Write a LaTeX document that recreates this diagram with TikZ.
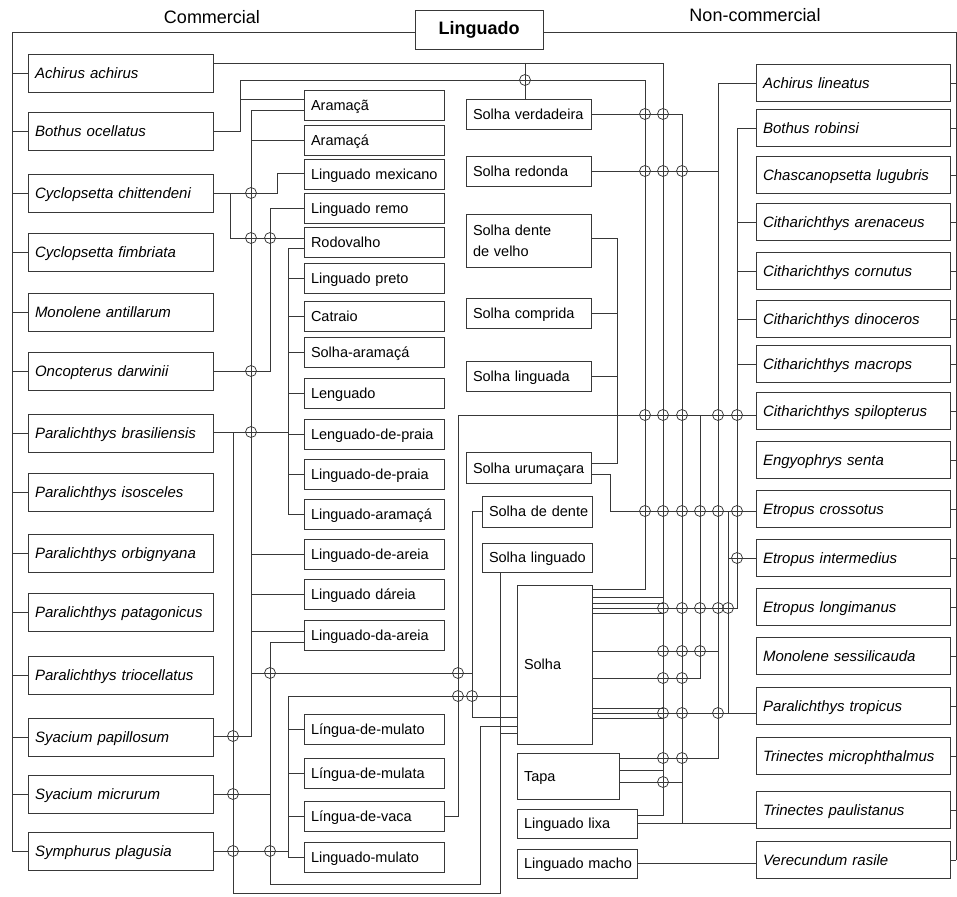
\documentclass[tikz,border=0pt]{standalone}
\usepackage{fontspec}
\setmainfont{Liberation Sans}
\begin{document}
\begin{tikzpicture}[x=1pt,y=-1pt,
  ln/.style={line width=0.75pt, draw=black!78},
  bx/.style={draw=black!78, line width=0.9pt, fill=white, inner xsep=7pt, inner ysep=0pt, align=left, font=\fontsize{14.5}{20}\selectfont},
  one/.style={text height=10.5pt, text depth=0pt},
  lbox/.style={bx, one, text width=171pt, minimum height=38pt, font=\fontsize{15}{18}\selectfont\itshape},
  rbox/.style={bx, one, text width=180pt, minimum height=37pt, font=\fontsize{15}{18}\selectfont\itshape},
  cbox/.style={bx, one, text width=126pt, minimum height=30pt},
  sbox/.style={bx, one, text width=111pt, minimum height=30pt},
  bump/.style={line width=0.75pt, draw=black!78}
]
\path[use as bounding box, fill=white] (0,0) rectangle (957,896);

% ---------- headers ----------
\node[font=\fontsize{18}{21}\selectfont] (hc) at (212,17) {Commercial};
\node[font=\fontsize{18}{21}\selectfont] (hn) at (755,15) {Non-commercial};
\node[draw=black!78, line width=0.9pt, fill=white, minimum width=128pt, minimum height=39pt, inner sep=0pt, font=\fontsize{18}{21}\selectfont\bfseries] (LG) at (479,29.5) {Linguado};

% ---------- left species ----------
\node[lbox] (LA1) at (120.5,73) {\mbox{Achirus achirus}};
\node[lbox] (LA2) at (120.5,131) {\mbox{Bothus ocellatus}};
\node[lbox] (LA3) at (120.5,193) {\mbox{Cyclopsetta chittendeni}};
\node[lbox] (LA4) at (120.5,252) {\mbox{Cyclopsetta fimbriata}};
\node[lbox] (LA5) at (120.5,312) {\mbox{Monolene antillarum}};
\node[lbox] (LA6) at (120.5,371) {\mbox{Oncopterus darwinii}};
\node[lbox] (LA7) at (120.5,433) {\mbox{Paralichthys brasiliensis}};
\node[lbox] (LA8) at (120.5,492) {\mbox{Paralichthys isosceles}};
\node[lbox] (LA9) at (120.5,553) {\mbox{Paralichthys orbignyana}};
\node[lbox] (LA10) at (120.5,612) {\mbox{Paralichthys patagonicus}};
\node[lbox] (LA11) at (120.5,675) {\mbox{Paralichthys triocellatus}};
\node[lbox] (LA12) at (120.5,737) {\mbox{Syacium papillosum}};
\node[lbox] (LA13) at (120.5,794) {\mbox{Syacium micrurum}};
\node[lbox] (LA14) at (120.5,851) {\mbox{Symphurus plagusia}};

% ---------- common names (left) ----------
\node[cbox] (C1) at (374,105) {\mbox{Aramaçã}};
\node[cbox] (C2) at (374,140) {\mbox{Aramaçá}};
\node[cbox] (C3) at (374,174) {\mbox{Linguado mexicano}};
\node[cbox] (C4) at (374,208) {\mbox{Linguado remo}};
\node[cbox] (C5) at (374,242) {\mbox{Rodovalho}};
\node[cbox] (C6) at (374,278) {\mbox{Linguado preto}};
\node[cbox] (C7) at (374,316) {\mbox{Catraio}};
\node[cbox] (C8) at (374,352) {\mbox{Solha-aramaçá}};
\node[cbox] (C9) at (374,393) {\mbox{Lenguado}};
\node[cbox] (C10) at (374,434) {\mbox{Lenguado-de-praia}};
\node[cbox] (C11) at (374,474) {\mbox{Linguado-de-praia}};
\node[cbox] (C12) at (374,514) {\mbox{Linguado-aramaçá}};
\node[cbox] (C13) at (374,554) {\mbox{Linguado-de-areia}};
\node[cbox] (C14) at (374,594) {\mbox{Linguado dáreia}};
\node[cbox] (C15) at (374,635) {\mbox{Linguado-da-areia}};
\node[cbox] (C16) at (374,729) {\mbox{Língua-de-mulato}};
\node[cbox] (C17) at (374,773) {\mbox{Língua-de-mulata}};
\node[cbox] (C18) at (374,816) {\mbox{Língua-de-vaca}};
\node[cbox] (C19) at (374,857) {\mbox{Linguado-mulato}};

% ---------- common names (middle) ----------
\node[sbox] (S1) at (528.5,114) {\mbox{Solha verdadeira}};
\node[sbox] (S2) at (528.5,171) {\mbox{Solha redonda}};
\node[bx, text width=111pt, minimum height=53pt, font=\fontsize{14.5}{21}\selectfont] (S3) at (528.5,241) {\mbox{Solha dente}\\\mbox{de velho}};
\node[sbox] (S4) at (528.5,313) {\mbox{Solha comprida}};
\node[sbox] (S5) at (528.5,376) {\mbox{Solha linguada}};
\node[sbox, minimum height=31pt] (S6) at (528.5,468) {\mbox{Solha urumaçara}};
\node[bx, one, text width=96pt, minimum height=31pt] (S7) at (537,511.5) {\mbox{Solha de dente}};
\node[bx, one, text width=96pt, minimum height=29pt] (S8) at (537,557.5) {\mbox{Solha linguado}};
\node[bx, one, text width=61pt, minimum height=159pt] (S9) at (554.5,664.5) {Solha};
\node[bx, one, text width=88pt, minimum height=46pt] (S10) at (568,776) {Tapa};
\node[bx, one, text width=106pt, minimum height=29pt] (S11) at (577,823.5) {\mbox{Linguado lixa}};
\node[bx, one, text width=106pt, minimum height=29pt] (S12) at (577,863.5) {\mbox{Linguado macho}};

% ---------- right species ----------
\node[rbox] (R1) at (853,83) {\mbox{Achirus lineatus}};
\node[rbox] (R2) at (853,128) {\mbox{Bothus robinsi}};
\node[rbox] (R3) at (853,175) {\mbox{Chascanopsetta lugubris}};
\node[rbox] (R4) at (853,222) {\mbox{Citharichthys arenaceus}};
\node[rbox] (R5) at (853,271) {\mbox{Citharichthys cornutus}};
\node[rbox] (R6) at (853,319) {\mbox{Citharichthys dinoceros}};
\node[rbox] (R7) at (853,364) {\mbox{Citharichthys macrops}};
\node[rbox] (R8) at (853,411) {\mbox{Citharichthys spilopterus}};
\node[rbox] (R9) at (853,460) {\mbox{Engyophrys senta}};
\node[rbox] (R10) at (853,509) {\mbox{Etropus crossotus}};
\node[rbox] (R11) at (853,558) {\mbox{Etropus intermedius}};
\node[rbox] (R12) at (853,607) {\mbox{Etropus longimanus}};
\node[rbox] (R13) at (853,656) {\mbox{Monolene sessilicauda}};
\node[rbox] (R14) at (853,706) {\mbox{Paralichthys tropicus}};
\node[rbox] (R15) at (853,756) {\mbox{Trinectes microphthalmus}};
\node[rbox] (R16) at (853,810) {\mbox{Trinectes paulistanus}};
\node[rbox] (R17) at (853,860) {\mbox{Verecundum rasile}};

% ---------- top tree ----------
\draw[ln] (LG.west |- 0,32) -- (12,32) -- (12,851);
\foreach \n in {LA1,LA2,LA3,LA4,LA5,LA6,LA7,LA8,LA9,LA10,LA11,LA12,LA13,LA14}
  \draw[ln] (\n.west) -- ++(-16,0);
\draw[ln] (LG.east |- 0,32) -- (956,32) -- (956,860);
\foreach \n in {R1,R2,R3,R4,R5,R6,R7,R8,R9,R10,R11,R12,R13,R14,R15,R16,R17}
  \draw[ln] (\n.east) -- ++(6,0);

% ---------- left wiring ----------
% Achirus achirus
\draw[ln] (LA1.east |- 0,63) -- (663,63) -- (663,815) -- (S11.east |- 0,815);
\draw[ln] (525,63) -- (S1.north -| 525,0);
% Bothus ocellatus
\draw[ln] (LA2.east) -- (240,131) -- (240,80) -- (645,80) -- (645,589) -- (S9.east |- 0,589);
\draw[ln] (240,99) -- (C1.west |- 0,99);
% Cyclopsetta chittendeni
\draw[ln] (LA3.east) -- (277,193) -- (277,173) -- (C3.west |- 0,173);
\draw[ln] (230,193) -- (230,238) -- (C5.west |- 0,238);
% Syacium papillosum
\draw[ln] (C1.west |- 0,110) -- (251,110) -- (251,736) -- (LA12.east |- 0,736);
\draw[ln] (251,140) -- (C2.west);
\draw[ln] (251,554) -- (C13.west);
\draw[ln] (251,594) -- (C14.west);
\draw[ln] (251,631) -- (C15.west |- 0,631);
\draw[ln] (251,673) -- (472,673);
% Oncopterus darwinii
\draw[ln] (LA6.east) -- (270,371) -- (270,208) -- (C4.west);
% Paralichthys brasiliensis
\draw[ln] (LA7.east |- 0,432) -- (288,432);
\draw[ln] (C5.west |- 0,248) -- (288,248) -- (288,514) -- (C12.west |- 0,514);
\foreach \n in {C6,C7,C8,C9,C10,C11} \draw[ln] (\n.west) -- (\n.west -| 288,0);
\draw[ln] (233,432) -- (233,893) -- (500,893) -- (500,733) -- (S9.west |- 0,733);
\draw[ln] (S8.south -| 500,0) -- (500,733);
% Syacium micrurum
\draw[ln] (LA13.east) -- (270,794);
\draw[ln] (C15.west |- 0,642) -- (270,642) -- (270,884) -- (480,884) -- (480,726) -- (S9.west |- 0,726);
% Symphurus plagusia
\draw[ln] (LA14.east) -- (288,851);
\draw[ln] (S9.west |- 0,696) -- (288,696) -- (288,857) -- (C19.west);
\foreach \n in {C16,C17,C18} \draw[ln] (\n.west) -- (\n.west -| 288,0);
% Lingua-de-vaca
\draw[ln] (C18.east) -- (458,816) -- (458,415) -- (R8.west |- 0,415);
% Solha de dente
\draw[ln] (S7.west) -- (472,511.5) -- (472,717) -- (S9.west |- 0,717);

% ---------- middle / right wiring ----------
\draw[ln] (S3.east |- 0,238) -- (617,238) -- (617,463) -- (S6.east |- 0,463);
\draw[ln] (S4.east) -- (617,313);
\draw[ln] (S5.east) -- (617,376);
\draw[ln] (S6.east |- 0,474) -- (610,474) -- (610,511) -- (R10.west |- 0,511);
\draw[ln] (S1.east) -- (682,114) -- (682,823);
\draw[ln] (S11.east |- 0,823) -- (R16.west |- 0,823);
\draw[ln] (S2.east) -- (718,171);
\draw[ln] (R1.west) -- (718,83) -- (718,758) -- (S10.east |- 0,758);
\draw[ln] (R2.west) -- (737,128) -- (737,608) -- (S9.east |- 0,608);
\foreach \n in {R4,R5,R6,R7} \draw[ln] (\n.west) -- (\n.west -| 737,0);
\draw[ln] (700,415) -- (700,678) -- (S9.east |- 0,678);
\draw[ln] (728,511) -- (728,713);
\draw[ln] (728,558) -- (R11.west |- 0,558);
\draw[ln] (S9.east |- 0,713) -- (R14.west |- 0,713);
\draw[ln] (S9.east |- 0,597) -- (663,597);
\draw[ln] (S9.east |- 0,603) -- (663,603);
\draw[ln] (S9.east |- 0,613) -- (663,613);
\draw[ln] (S9.east |- 0,651) -- (718,651);
\draw[ln] (S9.east |- 0,708) -- (663,708);
\draw[ln] (S9.east |- 0,718) -- (663,718);
\draw[ln] (S10.east |- 0,770) -- (663,770);
\draw[ln] (S10.east |- 0,782) -- (682,782);
\draw[ln] (S12.east) -- (S12.east -| R17.west);

% ---------- crossing bumps ----------
\foreach \p in {(525,80),(251,193),(251,238),(270,238),(251,371),(251,432),
  (233,736),(233,794),(233,851),(270,851),(270,673),(458,673),(458,696),(472,696),
  (645,114),(645,171),(645,415),(645,511),
  (663,114),(663,171),(663,415),(663,511),(663,608),(663,651),(663,678),(663,713),(663,758),(663,782),
  (682,171),(682,415),(682,511),(682,608),(682,651),(682,678),(682,713),(682,758),
  (700,511),(700,608),(700,651),
  (718,415),(718,511),(718,608),(718,713),
  (728,608),
  (737,415),(737,511),(737,558)}
  \draw[bump] \p circle (5.5);
\end{tikzpicture}
\end{document}
